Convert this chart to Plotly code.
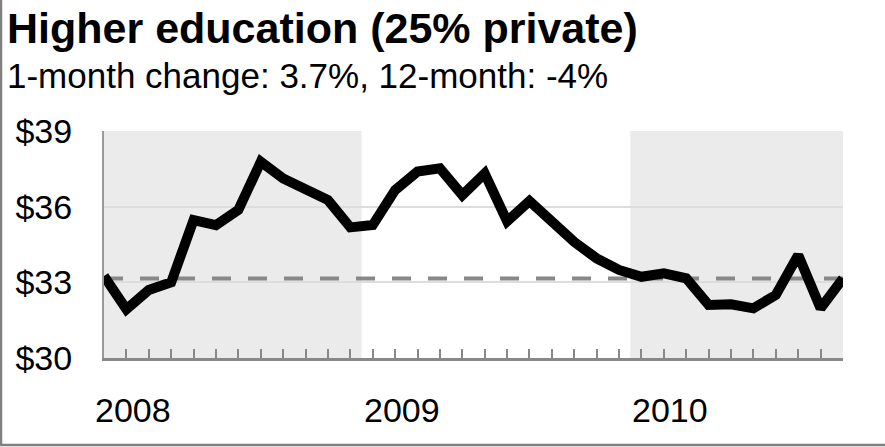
import plotly.graph_objects as go

months = [f"{y}-{m:02d}" for y in (2008, 2009, 2010) for m in range(1, 13)][:34]
values = [33.25, 31.93, 32.70, 33.00, 35.47, 35.27, 35.87, 37.78, 37.12, 36.73,
          36.26, 35.18, 35.27, 36.66, 37.39, 37.52, 36.46, 37.32, 35.42, 36.22,
          35.40, 34.60, 33.95, 33.49, 33.22, 33.36, 33.16, 32.10, 32.13, 31.97,
          32.50, 34.08, 31.97, 33.15]
reference_level = 33.15
y_ticks = [30, 33, 36, 39]
y_tick_labels = ["$30", "$33", "$36", "$39"]
year_labels = ["2008", "2009", "2010"]
year_starts = [-0.5, 11.5, 23.5]
shaded_years = [(-0.5, 11.5), (23.5, 33.5)]
x_range = [0, 33]

W, H = 885, 447
ML, MR, MT, MB = 104, 42, 131, 89
PW, PH = W - ML - MR, H - MT - MB

def px_x(p):
    return (p - ML) / PW

def px_y(p):
    return (H - MB - p) / PH

def idx_to_paper(i):
    return (i - x_range[0]) / (x_range[1] - x_range[0])

FONT = "Liberation Sans, Arial, sans-serif"

fig = go.Figure()
fig.add_trace(go.Scatter(x=months, y=values, mode="lines",
                         line=dict(color="black", width=10),
                         hoverinfo="skip", showlegend=False))

shapes = []
for x0, x1 in shaded_years:
    shapes.append(dict(type="rect", xref="x", yref="paper", x0=x0, x1=x1, y0=0, y1=1,
                       fillcolor="#ebebeb", line=dict(width=0), layer="below"))
shapes.append(dict(type="line", xref="paper", yref="y", x0=0, x1=1,
                   y0=reference_level, y1=reference_level,
                   line=dict(color="#888888", width=4, dash="19px,17px"), layer="below"))
shapes.append(dict(type="rect", xref="paper", yref="paper",
                   x0=px_x(1), x1=px_x(W + 20), y0=px_y(445), y1=px_y(-20),
                   line=dict(color="#808080", width=2.5), fillcolor="rgba(0,0,0,0)"))

annotations = [
    dict(text="<b>Higher education (25% private)</b>", xref="paper", yref="paper",
         x=px_x(5), y=px_y(28), xanchor="left", yanchor="middle", showarrow=False,
         font=dict(family=FONT, size=43, color="black")),
    dict(text="1-month change: 3.7%, 12-month: -4%", xref="paper", yref="paper",
         x=px_x(5), y=px_y(76), xanchor="left", yanchor="middle", showarrow=False,
         font=dict(family=FONT, size=35, color="black")),
]
for lab, xs in zip(year_labels, year_starts):
    annotations.append(dict(text=lab, xref="paper", yref="paper", x=idx_to_paper(xs),
                            y=px_y(410), xanchor="left", yanchor="middle", showarrow=False,
                            font=dict(family=FONT, size=34, color="black")))

fig.update_layout(
    width=W, height=H,
    margin=dict(l=ML, r=MR, t=MT, b=MB, pad=0),
    paper_bgcolor="white", plot_bgcolor="white",
    shapes=shapes, annotations=annotations,
    xaxis=dict(type="category", categoryorder="array", categoryarray=months,
               range=x_range, showticklabels=False, ticks="inside", ticklen=9,
               tickwidth=2, tickcolor="#888888", showgrid=False,
               showline=True, linecolor="#888888", linewidth=3, zeroline=False),
    yaxis=dict(range=[30, 39], tickvals=y_ticks, ticktext=y_tick_labels,
               showgrid=True, gridcolor="#dddddd", gridwidth=1.5,
               showline=True, linecolor="#999999", linewidth=2, zeroline=False,
               ticks="", ticklabelstandoff=23,
               tickfont=dict(family=FONT, size=34, color="black")),
)

fig.write_html("out.html")
